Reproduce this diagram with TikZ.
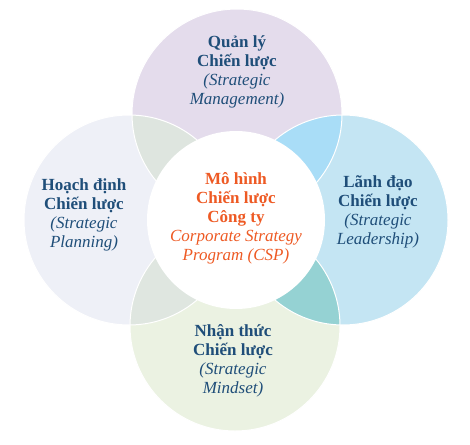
\documentclass[tikz,border=0pt]{standalone}
\usepackage{fontspec}
\setmainfont{Liberation Serif}
\usepackage{xcolor}
\usetikzlibrary{positioning}

\definecolor{tim}{HTML}{E4DCEC}
\definecolor{xamnhat}{HTML}{EEF0F7}
\definecolor{xanhtroi}{HTML}{C4E5F3}
\definecolor{xanhla}{HTML}{EBF2E2}
\definecolor{giaoTL}{HTML}{DEE5DF}
\definecolor{giaoTR}{HTML}{A9DDF7}
\definecolor{giaoRB}{HTML}{95D2D3}
\definecolor{giaoLB}{HTML}{DFE6E0}
\definecolor{chuxanh}{HTML}{1F4E79}
\definecolor{camdo}{HTML}{EE5A24}

\begin{document}
\begin{tikzpicture}[x=1pt, y=-1pt,
    nhan/.style={align=center, text=chuxanh, font=\fontsize{17}{19}\selectfont},
    vien/.style={white, line width=1pt}]
    \useasboundingbox (0,0) rectangle (470,444);

    % 1. Tâm các hình tròn
    \coordinate (O) at (236,220);
    \coordinate (T) at (237,114);
    \coordinate (L) at (129,220);
    \coordinate (R) at (343,220);
    \coordinate (B) at (235,326);

    % 2. Bốn hình tròn nền
    \fill[tim] (T) circle (105pt);
    \fill[xamnhat] (L) circle (105pt);
    \fill[xanhtroi] (R) circle (105pt);
    \fill[xanhla] (B) circle (105pt);

    % 3. Các phần giao nhau
    \begin{scope}
        \clip (T) circle (105pt);
        \fill[giaoTL] (L) circle (105pt);
        \fill[giaoTR] (R) circle (105pt);
    \end{scope}
    \begin{scope}
        \clip (B) circle (105pt);
        \fill[giaoLB] (L) circle (105pt);
        \fill[giaoRB] (R) circle (105pt);
    \end{scope}

    % 4. Viền trắng
    \foreach \c in {T, L, R, B}
        \draw[vien] (\c) circle (105pt);

    % 5. Hình tròn trắng ở giữa
    \fill[white] (O) circle (89pt);

    % 6. Nhãn
    \node[nhan] (quanly) at (237,72)
        {\textbf{Quản lý}\\\textbf{Chiến lược}\\\textit{(Strategic}\\\textit{Management)}};
    \node[nhan] (hoachdinh) at (84,215)
        {\textbf{Hoạch định}\\\textbf{Chiến lược}\\\textit{(Strategic}\\\textit{Planning)}};
    \node[nhan] (lanhdao) at (378,212)
        {\textbf{Lãnh đạo}\\\textbf{Chiến lược}\\\textit{(Strategic}\\\textit{Leadership)}};
    \node[nhan] (nhanthuc) at (233,361)
        {\textbf{Nhận thức}\\\textbf{Chiến lược}\\\textit{(Strategic}\\\textit{Mindset)}};
    \node[nhan, text=camdo] (csp) at (236,218)
        {\textbf{Mô hình}\\\textbf{Chiến lược}\\\textbf{Công ty}\\\textit{Corporate Strategy}\\\textit{Program (CSP)}};

\end{tikzpicture}
\end{document}
